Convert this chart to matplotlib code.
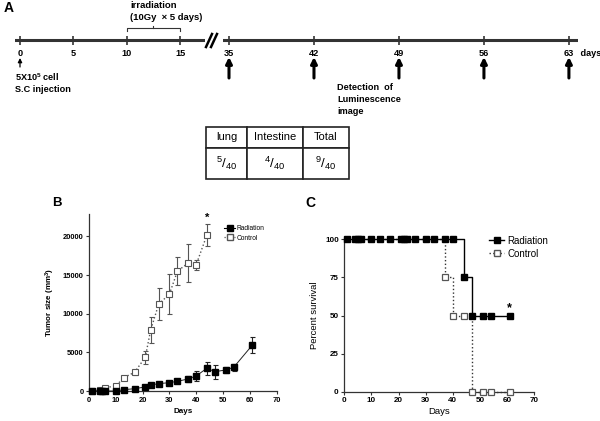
import matplotlib
matplotlib.use("Agg")
import matplotlib.pyplot as plt
from matplotlib.lines import Line2D

plt.rcParams['font.family'] = ['Liberation Sans', 'DejaVu Sans']
plt.rcParams['mathtext.fontset'] = 'custom'
plt.rcParams['mathtext.rm'] = 'Liberation Sans'
plt.rcParams['mathtext.it'] = 'Liberation Sans:italic'
plt.rcParams['mathtext.bf'] = 'Liberation Sans:bold'

# ---------------- data ----------------
# Panel A timeline
left_days = [0, 5, 10, 15]
right_days = [35, 42, 49, 56, 63]
imaging_days = [35, 42, 49, 56, 63]
irr_start, irr_end = 10, 15
table_cols = ['lung', 'Intestine', 'Total']
table_vals = [r'$^{5}/_{40}$', r'$^{4}/_{40}$', r'$^{9}/_{40}$']

# Panel B tumor growth
rad_days = [1, 4, 5, 6, 10, 13, 17, 21, 23, 26, 30, 33, 37, 40, 44, 47, 51, 54, 61]
rad_vals = [0, 0, 0, 0, 0, 170, 300, 520, 780, 950, 1080, 1250, 1560, 1950, 2940, 2500, 2720, 3070, 5960]
rad_err = [0, 0, 0, 0, 50, 80, 100, 150, 150, 150, 200, 250, 400, 700, 860, 900, 400, 450, 1040]
ctl_days = [1, 4, 6, 10, 13, 17, 21, 23, 26, 30, 33, 37, 40, 44]
ctl_vals = [0, 100, 430, 650, 1730, 2420, 4360, 7870, 11240, 12530, 15510, 16550, 16340, 20200]
ctl_err = [0, 50, 150, 200, 200, 350, 860, 1660, 2100, 2570, 1840, 2440, 670, 1420]

# Panel C survival
rad_step_t = [0, 44, 47, 61]
rad_step_s = [100, 75, 50, 50]
rad_mark_t = [1, 4, 5, 6, 10, 13, 17, 21, 22, 23, 26, 30, 33, 37, 40, 44, 47, 51, 54, 61]
rad_mark_s = [100] * 15 + [75, 50, 50, 50, 50]
ctl_step_t = [0, 37, 40, 47, 61]
ctl_step_s = [100, 75, 50, 0, 0]
ctl_mark_t = [37, 40, 44, 47, 51, 54, 61]
ctl_mark_s = [75, 50, 50, 0, 0, 0, 0]

W, H = 600, 421
fig = plt.figure(figsize=(6, 4.21), dpi=100)
fig.patch.set_facecolor('white')

ov = fig.add_axes([0, 0, 1, 1])
ov.set_xlim(0, W); ov.set_ylim(H, 0); ov.axis('off')

LINE = '#333333'
# ---------------- Panel A ----------------
line_y = 40
def tl_axes(px0, px1, d0, pxd0, ppd):
    a = fig.add_axes([px0 / W, 0, (px1 - px0) / W, 1])
    a.set_xlim(d0 + (px0 - pxd0) / ppd, d0 + (px1 - pxd0) / ppd)
    a.set_ylim(H, 0)
    a.axis('off')
    a.patch.set_alpha(0)
    return a

axL = tl_axes(15, 205, 0, 20, 10.67)
axR = tl_axes(223, 578, 35, 229, 12.14)
for a, days in ((axL, left_days), (axR, right_days)):
    a.axhline(line_y, color=LINE, lw=2.2)
    a.vlines(days, line_y - 4.5, line_y + 4.5, color=LINE, lw=1.2)
    for d in days:
        a.text(d, 53, str(d), ha='center', va='center', fontsize=6.6, fontweight='bold')
axR.text(axR.get_xlim()[1], 53, ' days', ha='left', va='center', fontsize=6.6,
         fontweight='bold', clip_on=False)

# break marks
for dx in (0, 5):
    ov.plot([206 + dx, 212 + dx], [47, 34], color='black', lw=1.8)

# arrows
axL.annotate('', xy=(0, 58), xytext=(0, 67),
             arrowprops=dict(arrowstyle='-|>', lw=0.9, color='black', mutation_scale=6,
                             shrinkA=0, shrinkB=0))
for d in imaging_days:
    axR.annotate('', xy=(d, 57), xytext=(d, 78),
                 arrowprops=dict(arrowstyle='-|>', lw=2.2, color='black', mutation_scale=9,
                                 shrinkA=0, shrinkB=0))

axL.text(-0.47, 77, r'5X10$^{\mathbf{5}}$ cell', ha='left', va='center', fontsize=6.6, fontweight='bold')
axL.text(-0.47, 89, 'S.C injection', ha='left', va='center', fontsize=6.6, fontweight='bold')

# irradiation bracket
mid = (irr_start + irr_end) / 2
axL.plot([irr_start, irr_start, irr_end, irr_end], [31, 28, 28, 31], color=LINE, lw=0.8)
axL.plot([mid, mid], [28, 25.5], color=LINE, lw=0.8)
axL.text(irr_start + 0.3, 6, 'irradiation', ha='left', va='center', fontsize=6.8, fontweight='bold')
axL.text(irr_start + 0.3, 17.5, '(10Gy  \u00d7 5 days)', ha='left', va='center', fontsize=6.8, fontweight='bold')

axR.text(43.9, 88, 'Detection  of', ha='left', va='center', fontsize=6.6, fontweight='bold')
axR.text(43.9, 99.5, 'Luminescence', ha='left', va='center', fontsize=6.6, fontweight='bold')
axR.text(43.9, 111, 'image', ha='left', va='center', fontsize=6.6, fontweight='bold')

ov.text(4, 8, 'A', fontsize=10, fontweight='bold', ha='left', va='center')

# table
tbl = ov.table(cellText=[table_vals], colLabels=table_cols, cellLoc='center',
               colWidths=[41, 56, 46],
               bbox=[206 / W, 1 - 179 / H, 143 / W, 52 / H])
tbl.auto_set_font_size(False)
for (r, c), cell in tbl.get_celld().items():
    cell.set_linewidth(1.2)
    cell.set_edgecolor('#222222')
    cell.set_height(21 if r == 0 else 31)
    cell.get_text().set_fontsize(8 if r == 0 else 9.5)

# ---------------- Panel B ----------------
axB = fig.add_axes([89 / W, 30 / H, 187.6 / W, 177 / H])
axB.set_xlim(0, 70); axB.set_ylim(0, 22900)
axB.errorbar(ctl_days, ctl_vals, yerr=ctl_err, fmt='s', ls=':', color='#555555',
             mfc='white', mec='#555555', ms=4.2, mew=0.8, lw=1.0, elinewidth=0.8,
             capsize=1.8, capthick=0.8, ecolor='#555555', label='Control', clip_on=False, zorder=3)
axB.errorbar(rad_days, rad_vals, yerr=rad_err, fmt='s', ls='-', color='#222222',
             mfc='black', mec='black', ms=4.2, lw=0.7, elinewidth=0.8,
             capsize=1.8, capthick=0.8, ecolor='#222222', label='Radiation', clip_on=False, zorder=4)
axB.text(ctl_days[-1], ctl_vals[-1] + ctl_err[-1] + 150, '*', ha='center', va='bottom',
         fontsize=8, fontweight='bold')
axB.set_xticks(range(0, 71, 10))
axB.set_yticks([0, 5000, 10000, 15000, 20000])
for s in ('top', 'right'):
    axB.spines[s].set_visible(False)
for s in ('left', 'bottom'):
    axB.spines[s].set_color(LINE); axB.spines[s].set_linewidth(0.9)
axB.tick_params(labelsize=5.4, length=2.5, width=0.8, color=LINE, pad=1.5)
plt.setp(axB.get_xticklabels() + axB.get_yticklabels(), fontweight='bold')
axB.set_xlabel('Days', fontsize=5.8, fontweight='bold', labelpad=3)
axB.set_ylabel('Tumor size (mm$^{\\mathbf{3}}$)', fontsize=5.8, fontweight='bold', labelpad=4)
hB = [Line2D([], [], color='black', ls='-', marker='s', mfc='black', mec='black', ms=4, lw=0.8),
      Line2D([], [], color='#555555', ls=':', marker='s', mfc='white', mec='#555555', ms=4, lw=0.9)]
axB.legend(hB, ['Radiation', 'Control'], loc='upper left', bbox_to_anchor=(221 / W, 1 - 222 / H),
           bbox_transform=fig.transFigure, frameon=False, fontsize=4.8, handlelength=1.6,
           handletextpad=0.2, labelspacing=0.35, borderpad=0)
ov.text(52, 203, 'B', fontsize=9.5, fontweight='bold', ha='left', va='center')

# ---------------- Panel C ----------------
axC = fig.add_axes([344.3 / W, 29.3 / H, 190 / W, 152.4 / H])
axC.set_xlim(0, 70); axC.set_ylim(0, 100)
axC.step(ctl_step_t, ctl_step_s, where='post', color='#333333', ls=':', lw=1.0, clip_on=False, zorder=2)
axC.plot(ctl_mark_t, ctl_mark_s, 's', mfc='white', mec='#555555', ms=5, mew=0.9, clip_on=False, zorder=3)
axC.step(rad_step_t, rad_step_s, where='post', color='black', ls='-', lw=1.0, clip_on=False, zorder=4)
axC.plot(rad_mark_t, rad_mark_s, 's', mfc='black', mec='black', ms=5, clip_on=False, zorder=5)
axC.text(rad_mark_t[-1], 55, '*', ha='center', va='center', fontsize=9, fontweight='bold')
axC.set_xticks(range(0, 71, 10))
axC.set_yticks([0, 25, 50, 75, 100])
for s in ('top', 'right'):
    axC.spines[s].set_visible(False)
for s in ('left', 'bottom'):
    axC.spines[s].set_color(LINE); axC.spines[s].set_linewidth(0.9)
axC.tick_params(labelsize=5.8, length=2.5, width=0.8, color=LINE, pad=1.5)
plt.setp(axC.get_xticklabels() + axC.get_yticklabels(), fontweight='bold')
axC.set_xlabel('Days', fontsize=6.8, labelpad=2)
axC.set_ylabel('Percent survival', fontsize=6.8, labelpad=4)
hC = [Line2D([], [], color='black', ls='-', marker='s', mfc='black', mec='black', ms=5, lw=1.0),
      Line2D([], [], color='#333333', ls=':', marker='s', mfc='white', mec='#555555', ms=5, lw=1.0)]
axC.legend(hC, ['Radiation', 'Control'], loc='upper left', bbox_to_anchor=(484 / W, 1 - 231 / H),
           bbox_transform=fig.transFigure, frameon=False, fontsize=7, handlelength=1.6,
           handletextpad=0.3, labelspacing=0.3, borderpad=0)
ov.text(305, 203, 'C', fontsize=10, fontweight='bold', ha='left', va='center')

fig.savefig('out.png', dpi=100, facecolor='white')
